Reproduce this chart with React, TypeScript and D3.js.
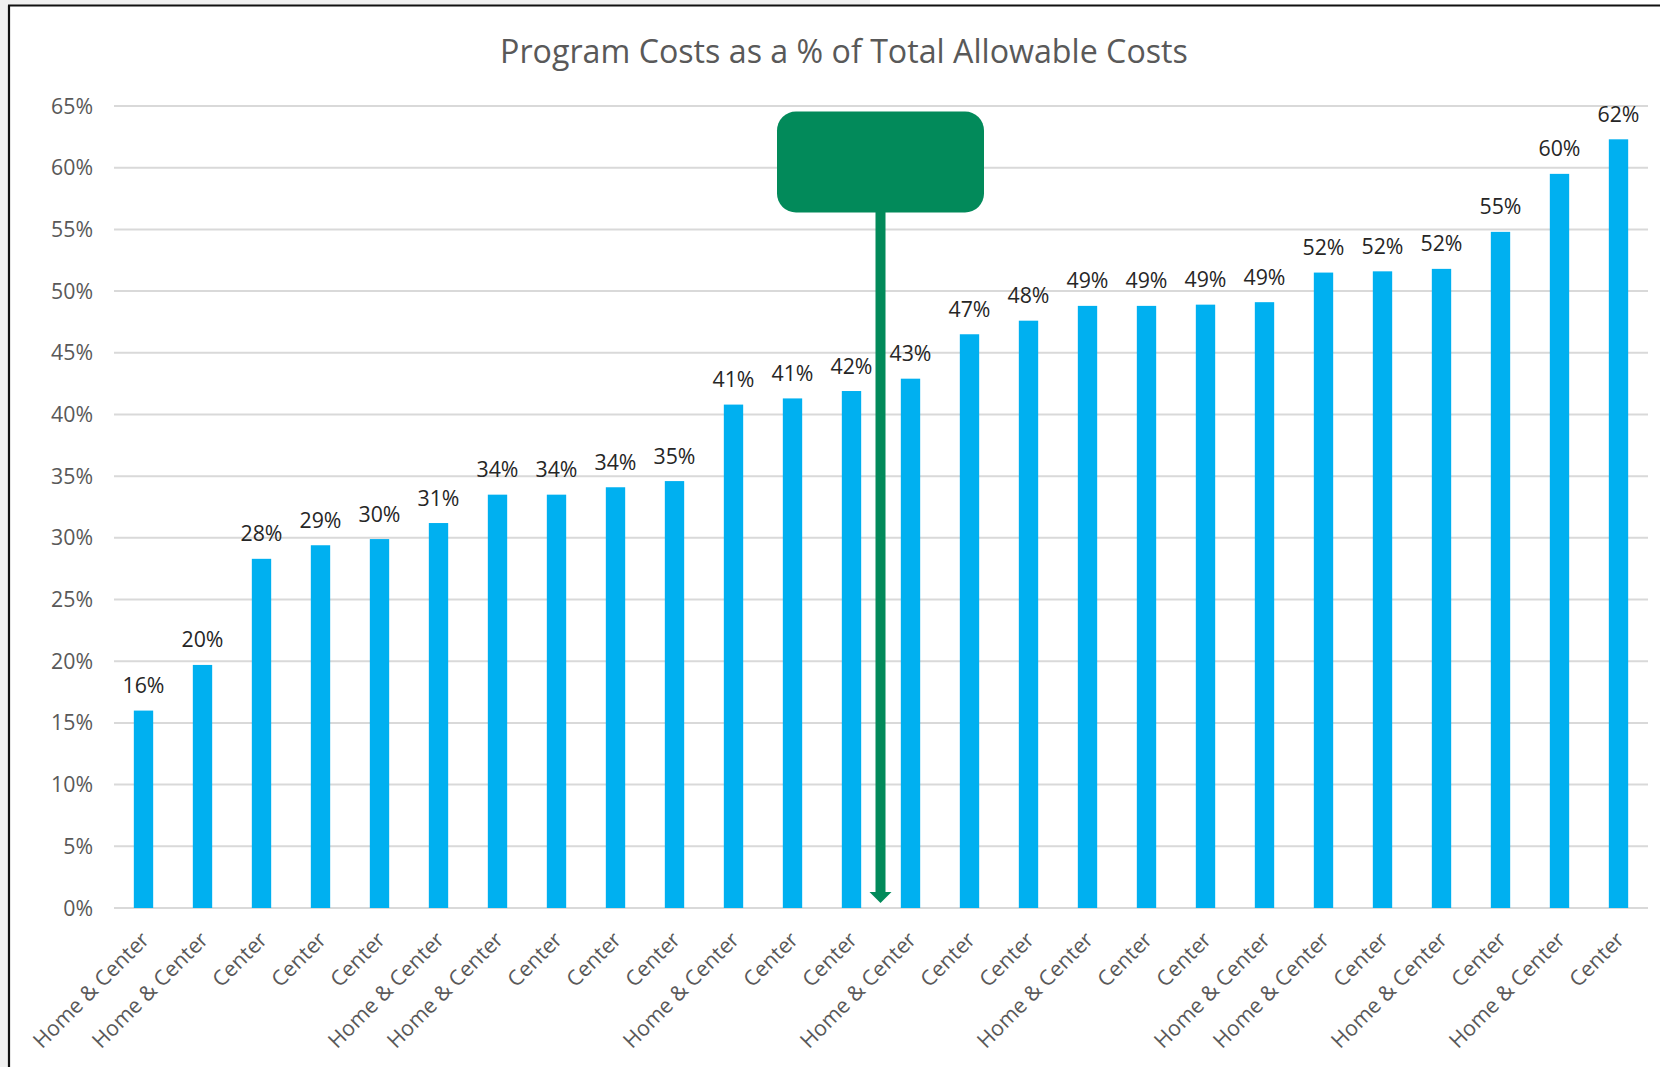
import React from "react";
import * as d3 from "d3";

const TITLE = "Program Costs as a % of Total Allowable Costs";
const categories = [
  "Home & Center", "Home & Center", "Center", "Center", "Center", "Home & Center",
  "Home & Center", "Center", "Center", "Center", "Home & Center", "Center", "Center",
  "Home & Center", "Center", "Center", "Home & Center", "Center", "Center",
  "Home & Center", "Home & Center", "Center", "Home & Center", "Center",
  "Home & Center", "Center",
];
const values = [
  16.0, 19.7, 28.3, 29.4, 29.9, 31.2, 33.5, 33.5, 34.1, 34.6, 40.8, 41.3, 41.9,
  42.9, 46.5, 47.6, 48.8, 48.8, 48.9, 49.1, 51.5, 51.6, 51.8, 54.8, 59.5, 62.3,
];
const yTicks = [0, 5, 10, 15, 20, 25, 30, 35, 40, 45, 50, 55, 60, 65];
// median marker sits between bar 13 and bar 14 (0-based 12 and 13)
const markerBetween = [12, 13];

const W = 1660;
const H = 1067;
const FONT = "'Open Sans', 'Noto Sans', sans-serif";

export default function App() {
  const left = 114;
  const right = 1648;
  const y0 = 908;
  const yTop = 106;

  const x = d3
    .scaleBand<number>()
    .domain(values.map((_, i) => i))
    .range([left, right])
    .paddingInner(0.672)
    .paddingOuter(0.336);
  const y = d3.scaleLinear().domain([0, 65]).range([y0, yTop]);

  const bw = x.bandwidth();
  const cx = (i: number) => (x(i) as number) + bw / 2;
  const mx = (cx(markerBetween[0]) + cx(markerBetween[1])) / 2 - 0.5;

  const boxW = 207;
  const boxTop = 111.5;
  const boxBottom = 212.5;
  const stemW = 10;
  const headW = 22;
  const headTop = 892;
  const tip = 903;

  return (
    <svg
      width={W}
      height={H}
      viewBox={`0 0 ${W} ${H}`}
      style={{ position: "absolute", left: 0, top: 0, display: "block" }}
      fontFamily={FONT}
    >
      <rect x={0} y={0} width={W} height={H} fill="#ffffff" />
      <rect x={0} y={0} width={8} height={H} fill="#f0f0f0" />
      <rect x={0} y={0} width={870} height={5} fill="#f0f0f0" />
      {/* frame */}
      <line x1={9} y1={5.5} x2={9} y2={H} stroke="#111" strokeWidth={2.2} />
      <line x1={8} y1={5.5} x2={W} y2={5.5} stroke="#111" strokeWidth={2} />

      <text
        x={844}
        y={63.3}
        textAnchor="middle"
        fontSize={32.2}
        fill="#595959"
      >
        {TITLE}
      </text>

      {/* gridlines */}
      {yTicks.map((t) => (
        <line
          key={"g" + t}
          x1={left}
          x2={right}
          y1={y(t)}
          y2={y(t)}
          stroke="#d9d9d9"
          strokeWidth={2}
        />
      ))}
      {yTicks.map((t) => (
        <text
          key={"yt" + t}
          x={93}
          y={y(t) + 7.5}
          textAnchor="end"
          fontSize={21.3}
          fill="#595959"
        >
          {t + "%"}
        </text>
      ))}

      {/* bars */}
      {values.map((v, i) => (
        <rect
          key={"b" + i}
          x={x(i)}
          y={y(v)}
          width={bw}
          height={y0 - y(v)}
          fill="#00b0f0"
        />
      ))}

      {/* data labels */}
      {values.map((v, i) => (
        <text
          key={"dl" + i}
          x={cx(i)}
          y={y(v) - 17.5}
          textAnchor="middle"
          fontSize={21.3}
          fill="#262626"
        >
          {Math.round(v) + "%"}
        </text>
      ))}

      {/* category labels */}
      {categories.map((c, i) => (
        <text
          key={"c" + i}
          transform={`translate(${cx(i) + 7},${941}) rotate(-45)`}
          textAnchor="end"
          fontSize={21.3}
          fill="#595959"
        >
          {c}
        </text>
      ))}

      {/* median marker annotation */}
      <rect
        x={mx - boxW / 2}
        y={boxTop}
        width={boxW}
        height={boxBottom - boxTop}
        rx={19}
        ry={19}
        fill="#028a5a"
      />
      <rect
        x={mx - stemW / 2}
        y={boxBottom - 1}
        width={stemW}
        height={headTop - boxBottom + 1}
        fill="#028a5a"
      />
      <path
        d={`M${mx - headW / 2},${headTop} L${mx + headW / 2},${headTop} L${mx},${tip} Z`}
        fill="#028a5a"
      />
    </svg>
  );
}
